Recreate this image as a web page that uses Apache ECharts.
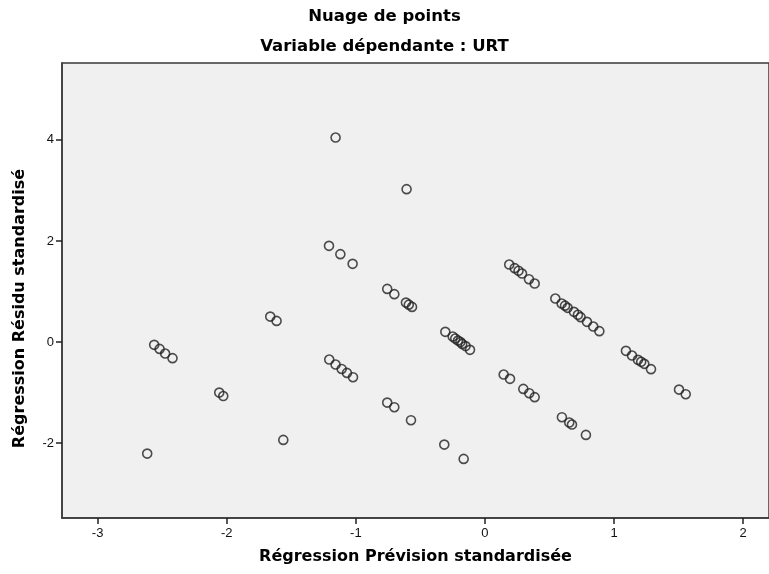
<!DOCTYPE html>
<html>
<head>
<meta charset="utf-8">
<script src="https://cdn.jsdelivr.net/npm/echarts@6/dist/echarts.min.js"></script>
<style>
html,body{margin:0;padding:0;background:#fff;}
#chart{width:769px;height:574px;}
</style>
</head>
<body>
<div id="chart"></div>
<script>
// Standardized predicted values (x) and standardized residuals (y)
const predicted = [
  -2.562,-2.52,-2.477,-2.42,
  -2.058,-2.027,
  -1.663,-1.614,
  -2.616,
  -1.562,
  -1.157,
  -0.607,
  -1.208,-1.12,-1.025,
  -0.757,-0.702,-0.612,-0.59,-0.565,
  -0.307,-0.25,-0.23,-0.209,-0.19,-0.176,-0.15,-0.116,
  -1.206,-1.157,-1.11,-1.069,-1.022,
  -0.757,-0.702,
  -0.573,
  -0.315,
  -0.165,
  0.145,0.194,
  0.188,0.23,0.26,0.287,0.341,0.385,
  0.545,0.594,0.62,0.64,0.689,0.72,0.741,0.79,0.839,0.886,
  1.092,1.139,1.185,1.21,1.234,1.286,
  0.297,0.343,0.385,
  0.596,0.653,0.674,
  0.782,
  1.503,1.555
];
const residuals = [
  -0.055,-0.135,-0.227,-0.318,
  -1.00,-1.067,
  0.504,0.419,
  -2.206,
  -1.935,
  4.045,
  3.025,
  1.903,1.739,1.547,
  1.052,0.948,0.781,0.74,0.696,
  0.202,0.109,0.07,0.03,0.0,-0.036,-0.08,-0.154,
  -0.346,-0.445,-0.532,-0.61,-0.695,
  -1.197,-1.288,
  -1.545,
  -2.028,
  -2.311,
  -0.643,-0.728,
  1.533,1.462,1.41,1.355,1.244,1.157,
  0.861,0.762,0.72,0.677,0.598,0.54,0.493,0.40,0.307,0.216,
  -0.174,-0.267,-0.352,-0.39,-0.431,-0.536,
  -0.926,-1.011,-1.09,
  -1.486,-1.592,-1.632,
  -1.836,
  -0.94,-1.031
];
const xTicks = [-3,-2,-1,0,1,2];
const yTicks = [-2,0,2,4];
const titleText = 'Nuage de points';
const subtitleText = 'Variable dépendante : URT';
const xName = 'Régression Prévision standardisée';
const yName = 'Régression Résidu standardisé';

const points = predicted.map((x,i)=>[x,residuals[i]]);
const BOLD = '"DejaVu Sans", "Liberation Sans", Arial, sans-serif';
const FONT = '"Liberation Sans", Arial, sans-serif';
const chart = echarts.init(document.getElementById('chart'), null, {renderer:'canvas'});
chart.setOption({
  backgroundColor:'#ffffff',
  animation:false,
  title:[
    {text:titleText,left:'center',top:3,textStyle:{fontFamily:BOLD,fontSize:16.5,fontWeight:'bold',color:'#000'}},
    {text:subtitleText,left:'center',top:33,textStyle:{fontFamily:BOLD,fontSize:16.5,fontWeight:'bold',color:'#000'}}
  ],
  grid:{left:62,top:63,right:-2,bottom:56,show:true,backgroundColor:'#f0f0f0',borderColor:'#3a3a3a',borderWidth:1.5,containLabel:false},
  xAxis:{
    type:'value',min:-3.276,max:2.2,
    name:xName,nameLocation:'middle',nameGap:31,
    nameTextStyle:{fontFamily:BOLD,fontSize:16,fontWeight:'bold',color:'#000'},
    axisLine:{show:true,onZero:false,lineStyle:{color:'#3a3a3a',width:1.5}},
    axisTick:{show:true,length:6,lineStyle:{color:'#222',width:1.5},customValues:xTicks},
    axisLabel:{show:true,customValues:xTicks,fontFamily:FONT,fontSize:13,color:'#111',margin:9},
    splitLine:{show:false}
  },
  yAxis:{
    type:'value',min:-3.48,max:5.52,
    name:yName,nameLocation:'middle',nameGap:34,
    nameTextStyle:{fontFamily:BOLD,fontSize:16,fontWeight:'bold',color:'#000',padding:[0,36,0,0]},
    axisLine:{show:true,onZero:false,lineStyle:{color:'#3a3a3a',width:1.5}},
    axisTick:{show:true,length:6,lineStyle:{color:'#222',width:1.5},customValues:yTicks},
    axisLabel:{show:true,customValues:yTicks,fontFamily:FONT,fontSize:13,color:'#111',margin:8},
    splitLine:{show:false}
  },
  series:[{
    type:'scatter',
    data:points,
    symbol:'circle',
    symbolSize:9,
    itemStyle:{color:'rgba(0,0,0,0)',borderColor:'#222',borderWidth:1.6},
    emphasis:{disabled:true}
  }]
});
</script>
</body>
</html>
